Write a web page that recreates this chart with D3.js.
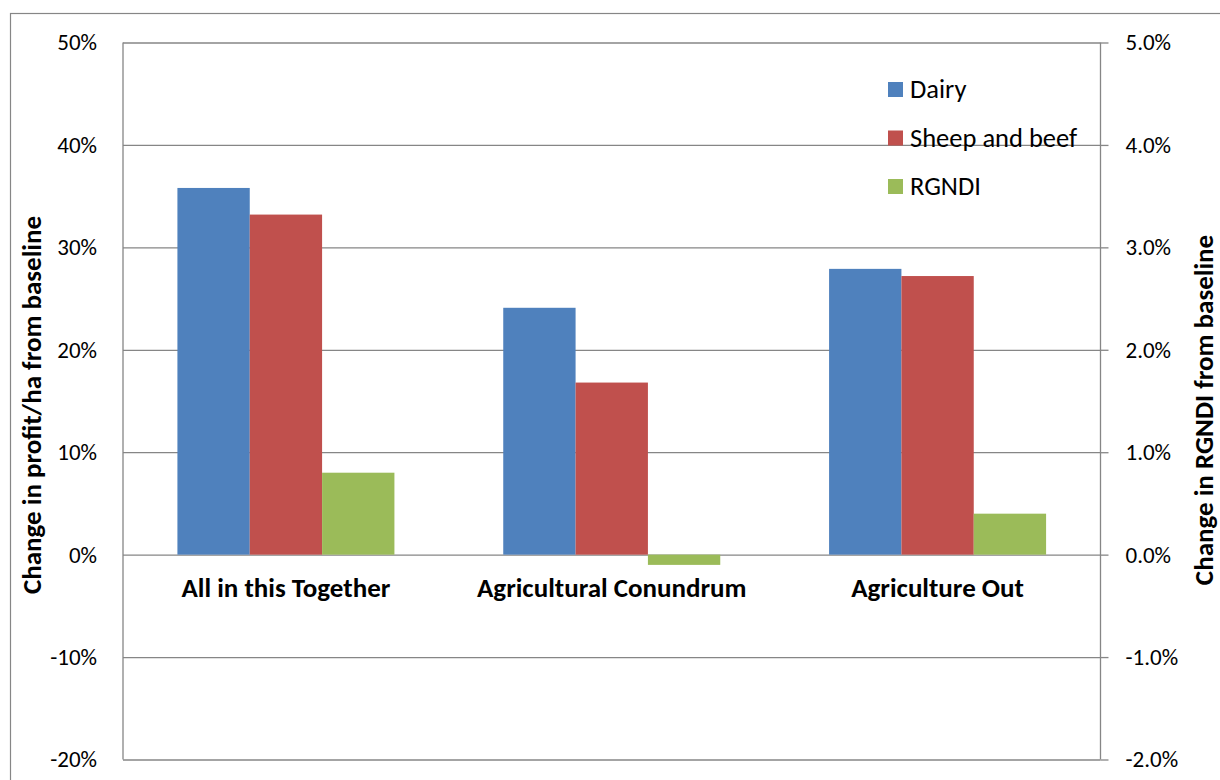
<!DOCTYPE html>
<html>
<head>
<meta charset="utf-8">
<script src="https://cdn.jsdelivr.net/npm/d3@7"></script>
<style>
	body { margin: 0; background: #fff; }
	svg text { font-family: Carlito, Lato, sans-serif; fill: #000; }
</style>
</head>
<body>
<svg id="chart" width="1220" height="780"></svg>
<script>
// scenarios along the x axis
var categories = ["All in this Together", "Agricultural Conundrum", "Agriculture Out"]
var seriesNames = ["Dairy", "Sheep and beef", "RGNDI"]
var seriesColors = ["#4f81bd", "#c0504d", "#9bbb59"]

// change in profit/ha (left axis)
var dairy = [0.358, 0.241, 0.279]
var sheepBeef = [0.332, 0.168, 0.272]
// change in RGNDI (right axis)
var rgndi = [0.008, -0.001, 0.004]

var leftTicks = [-0.2, -0.1, 0, 0.1, 0.2, 0.3, 0.4, 0.5]
var rightTicks = [-0.02, -0.01, 0, 0.01, 0.02, 0.03, 0.04, 0.05]

var svg = d3.select("#chart"),
	plot = {left: 123, right: 1100.5, top: 42.5, bottom: 759.5}

// d3 formats negatives with a real minus sign, the chart uses a hyphen
function pct(spec) {
	var f = d3.format(spec)
	return function(d) { return f(d).replace("\u2212", "-") }
}

// outer chart frame
svg.append("rect")
	.attr("x", 10.5).attr("y", 13.5)
	.attr("width", 1230).attr("height", 800)
	.attr("fill", "none")
	.attr("stroke", "#868686")
	.attr("stroke-width", 1.2)

var yLeft = d3.scaleLinear()
	.domain([-0.2, 0.5])
	.range([plot.bottom, plot.top])

var yRight = d3.scaleLinear()
	.domain([-0.02, 0.05])
	.range([plot.bottom, plot.top])

var x0 = d3.scaleBand()
	.domain(categories)
	.range([plot.left, plot.right])
	.paddingInner(0.334)
	.paddingOuter(0.167)

var x1 = d3.scaleBand()
	.domain(seriesNames)
	.range([0, x0.bandwidth()])

var g = svg.append("g")

// left axis doubles as the gridlines
var leftAxis = g.append("g")
	.attr("class", "axis left")
	.attr("transform", "translate(" + plot.left + ",0)")
	.call(d3.axisLeft(yLeft)
		.tickValues(leftTicks)
		.tickSize(-(plot.right - plot.left))
		.tickPadding(26)
		.tickFormat(pct(".0%")))

leftAxis.select(".domain").remove()
leftAxis.selectAll(".tick line")
	.attr("stroke", "#868686")
	.attr("stroke-width", 1.3)
leftAxis.selectAll(".tick text")
	.style("font-size", "23px")

g.append("line")
	.attr("x1", plot.left).attr("x2", plot.left)
	.attr("y1", plot.top).attr("y2", plot.bottom)
	.attr("stroke", "#868686")
	.attr("stroke-width", 1.3)

// bars
var rows = categories.map(function(c, i) {
	return [
		{cat: c, name: seriesNames[0], value: dairy[i], y: yLeft, color: seriesColors[0]},
		{cat: c, name: seriesNames[1], value: sheepBeef[i], y: yLeft, color: seriesColors[1]},
		{cat: c, name: seriesNames[2], value: rgndi[i], y: yRight, color: seriesColors[2]}
	]
})

g.append("g")
	.selectAll("g")
	.data(rows)
	.join("g")
		.attr("transform", function(d) { return "translate(" + x0(d[0].cat) + ",0)" })
	.selectAll("rect")
	.data(function(d) { return d })
	.join("rect")
		.attr("x", function(d) { return x1(d.name) })
		.attr("width", x1.bandwidth())
		.attr("y", function(d) { return Math.min(d.y(d.value), d.y(0)) })
		.attr("height", function(d) { return Math.abs(d.y(d.value) - d.y(0)) })
		.attr("fill", function(d) { return d.color })

// right axis
var rightAxis = g.append("g")
	.attr("class", "axis right")
	.attr("transform", "translate(" + plot.right + ",0)")
	.call(d3.axisRight(yRight)
		.tickValues(rightTicks)
		.tickSize(8)
		.tickPadding(17)
		.tickFormat(pct(".1%")))

rightAxis.select(".domain").remove()
rightAxis.selectAll(".tick line")
	.attr("stroke", "#868686")
	.attr("stroke-width", 1.3)
rightAxis.selectAll(".tick text")
	.style("font-size", "23px")

g.append("line")
	.attr("x1", plot.right).attr("x2", plot.right)
	.attr("y1", plot.top).attr("y2", plot.bottom)
	.attr("stroke", "#868686")
	.attr("stroke-width", 1.3)

// category labels
g.selectAll(".cat-label")
	.data(categories)
	.join("text")
		.attr("class", "cat-label")
		.attr("x", function(d) { return x0(d) + x0.bandwidth() / 2 })
		.attr("y", 597)
		.attr("text-anchor", "middle")
		.style("font-size", "27px")
		.style("font-weight", "bold")
		.text(function(d) { return d })

// axis titles
svg.append("text")
	.attr("transform", "translate(41,405) rotate(-90)")
	.attr("text-anchor", "middle")
	.style("font-size", "27px")
	.style("font-weight", "bold")
	.text("Change in profit/ha from baseline")

svg.append("text")
	.attr("transform", "translate(1213,410) rotate(-90)")
	.attr("text-anchor", "middle")
	.style("font-size", "27px")
	.style("font-weight", "bold")
	.text("Change in RGNDI from baseline")

// legend
var legend = svg.append("g")
	.attr("transform", "translate(888,89)")
	.selectAll("g")
	.data(seriesNames)
	.join("g")
		.attr("transform", function(d, i) { return "translate(0," + (i * 48.5) + ")" })

legend.append("rect")
	.attr("x", 0).attr("y", -7)
	.attr("width", 15).attr("height", 15)
	.attr("fill", function(d, i) { return seriesColors[i] })

legend.append("text")
	.attr("x", 22)
	.attr("dy", "0.35em")
	.style("font-size", "26.5px")
	.text(function(d) { return d })
</script>
</body>
</html>
